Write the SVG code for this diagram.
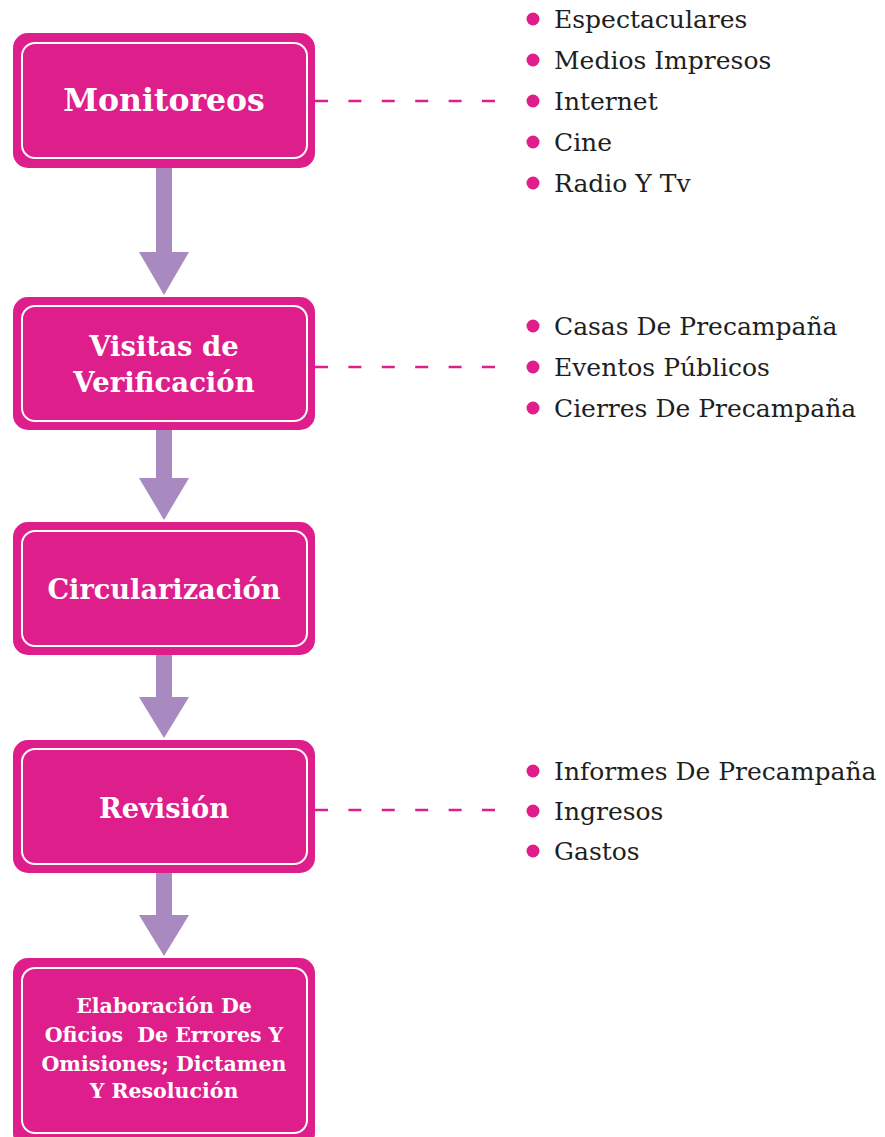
<svg xmlns="http://www.w3.org/2000/svg" width="885" height="1137" viewBox="0 0 885 1137">
<style>
.box{fill:#DE1E8B;}
.inner{fill:none;stroke:#FFFFFF;stroke-width:2;}
.t{font-family:"DejaVu Serif","Liberation Serif",serif;font-weight:bold;fill:#FFFFFF;text-anchor:middle;}
.li{font-family:"DejaVu Serif","Liberation Serif",serif;font-size:25px;fill:#1E1E1E;}
.dot{fill:#DE1E8B;}
.dash{stroke:#DE1E8B;stroke-width:2.5;stroke-dasharray:13 20.4;fill:none;}
.arr{fill:#A98AC0;}
</style>
<rect width="885" height="1137" fill="#FFFFFF"/>
<g id="connectors">
<path class="arr" d="M156 168 H172 V252 H189 L164 295 L139 252 H156 Z"/>
<path class="arr" d="M156 430 H172 V478 H189 L164 520 L139 478 H156 Z"/>
<path class="arr" d="M156 655 H172 V697 H189 L164 738 L139 697 H156 Z"/>
<path class="arr" d="M156 873 H172 V915 H189 L164 956 L139 915 H156 Z"/>
<line class="dash" x1="315" y1="101" x2="495" y2="101"/>
<line class="dash" x1="315" y1="367" x2="495" y2="367"/>
<line class="dash" x1="315" y1="810" x2="495" y2="810"/>
</g>
<g id="monitoreos">
<rect class="box" x="13" y="33" width="302" height="135" rx="15"/>
<rect class="inner" x="22" y="43" width="285" height="115" rx="13"/>
<text class="t" x="164" y="111" font-size="31.5">Monitoreos</text>
</g>
<g id="visitas">
<rect class="box" x="13" y="297" width="302" height="133" rx="15"/>
<rect class="inner" x="22" y="306" width="285" height="115" rx="13"/>
<text class="t" x="164" y="356" font-size="27.5">Visitas de</text>
<text class="t" x="164" y="392" font-size="27.5">Verificación</text>
</g>
<g id="circularizacion">
<rect class="box" x="13" y="522" width="302" height="133" rx="15"/>
<rect class="inner" x="22" y="531" width="285" height="115" rx="13"/>
<text class="t" x="164" y="599" font-size="27.2">Circularización</text>
</g>
<g id="revision">
<rect class="box" x="13" y="740" width="302" height="133" rx="15"/>
<rect class="inner" x="22" y="749" width="285" height="115" rx="13"/>
<text class="t" x="164" y="818" font-size="27.3">Revisión</text>
</g>
<g id="elaboracion">
<rect class="box" x="13" y="958" width="302" height="190" rx="15"/>
<rect class="inner" x="22" y="968" width="285" height="165" rx="13"/>
<text class="t" x="164" y="1013" font-size="20.5">Elaboración De</text>
<text class="t" x="164" y="1042" font-size="20.5" style="white-space:pre" xml:space="preserve">Oficios  De Errores Y</text>
<text class="t" x="164" y="1071" font-size="20.5">Omisiones; Dictamen</text>
<text class="t" x="164" y="1098" font-size="20.5">Y Resolución</text>
</g>
<g id="list-monitoreos">
<circle class="dot" cx="533" cy="19" r="6.5"/><text class="li" x="554" y="28">Espectaculares</text>
<circle class="dot" cx="533" cy="60" r="6.5"/><text class="li" x="554" y="69">Medios Impresos</text>
<circle class="dot" cx="533" cy="101" r="6.5"/><text class="li" x="554" y="110">Internet</text>
<circle class="dot" cx="533" cy="142" r="6.5"/><text class="li" x="554" y="151">Cine</text>
<circle class="dot" cx="533" cy="183" r="6.5"/><text class="li" x="554" y="192">Radio Y Tv</text>
</g>
<g id="list-visitas">
<circle class="dot" cx="533" cy="326" r="6.5"/><text class="li" x="554" y="335">Casas De Precampaña</text>
<circle class="dot" cx="533" cy="367" r="6.5"/><text class="li" x="554" y="376">Eventos Públicos</text>
<circle class="dot" cx="533" cy="408" r="6.5"/><text class="li" x="554" y="417">Cierres De Precampaña</text>
</g>
<g id="list-revision">
<circle class="dot" cx="533" cy="771" r="6.5"/><text class="li" x="554" y="780">Informes De Precampaña</text>
<circle class="dot" cx="533" cy="811" r="6.5"/><text class="li" x="554" y="820">Ingresos</text>
<circle class="dot" cx="533" cy="851" r="6.5"/><text class="li" x="554" y="860">Gastos</text>
</g>
</svg>
